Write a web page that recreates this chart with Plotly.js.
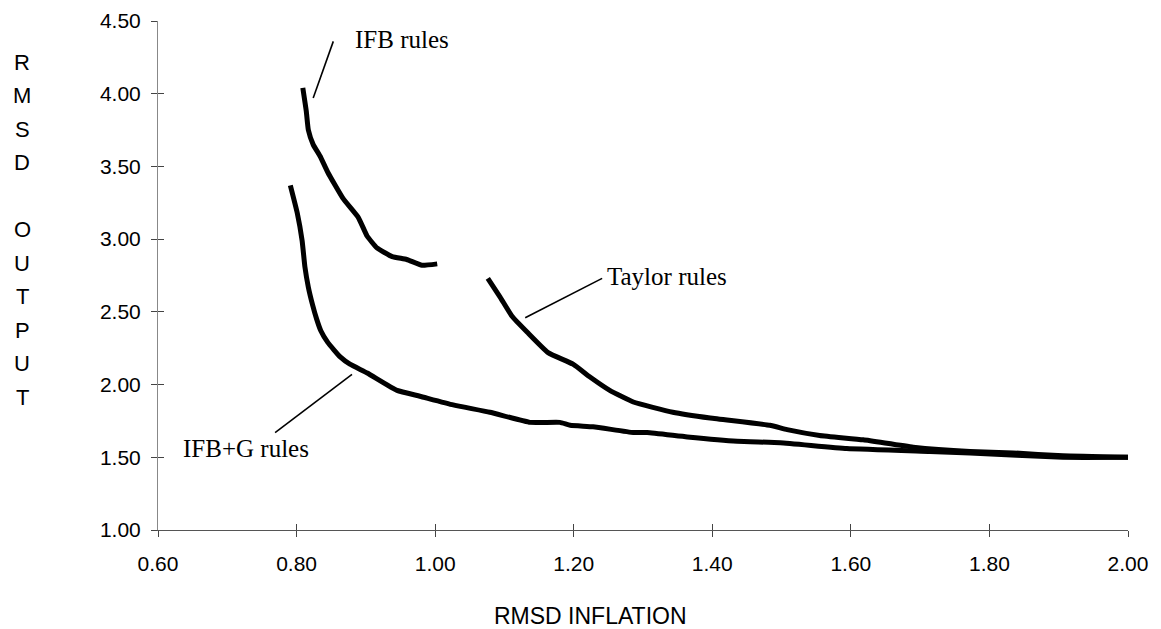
<!DOCTYPE html>
<html>
<head>
<meta charset="utf-8">
<script src="https://cdn.plot.ly/plotly-3.0.1.min.js"></script>
<style>
  body { margin: 0; background: #fff; }
  #chart { width: 1161px; height: 629px; }
</style>
</head>
<body>
<div id="chart"></div>
<script>
// RMSD output vs RMSD inflation, three rule families
const ifbX = [0.809, 0.814, 0.817, 0.824, 0.834, 0.845, 0.867, 0.889, 0.902, 0.916, 0.938, 0.959, 0.981, 1.003];
const ifbY = [4.04, 3.88, 3.75, 3.65, 3.57, 3.46, 3.28, 3.15, 3.02, 2.94, 2.88, 2.86, 2.82, 2.83];

const ifbgX = [0.791, 0.801, 0.808, 0.812, 0.817, 0.823, 0.829, 0.835, 0.845, 0.863, 0.877, 0.902, 0.945, 0.978,
               1.026, 1.079, 1.137, 1.180, 1.195, 1.228, 1.286, 1.306, 1.364, 1.436, 1.498, 1.594, 1.714,
               1.772, 1.906, 2.00];
const ifbgY = [3.37, 3.18, 2.99, 2.81, 2.67, 2.55, 2.45, 2.37, 2.29, 2.19, 2.14, 2.08, 1.96, 1.92,
               1.86, 1.81, 1.74, 1.74, 1.72, 1.71, 1.67, 1.67, 1.64, 1.61, 1.60, 1.56, 1.54,
               1.53, 1.50, 1.50];

const taylorX = [1.076, 1.094, 1.111, 1.133, 1.163, 1.199, 1.224, 1.252, 1.286, 1.343, 1.397, 1.483,
                 1.508, 1.555, 1.618, 1.690, 1.772, 1.834, 1.906, 2.00];
const taylorY = [2.73, 2.60, 2.47, 2.36, 2.22, 2.14, 2.05, 1.96, 1.88, 1.81, 1.77, 1.72,
                 1.69, 1.65, 1.62, 1.57, 1.54, 1.53, 1.51, 1.50];

// label text and the short pointer lines
const labelText = ['IFB rules', 'Taylor rules', 'IFB+G rules'];
const labelX = [0.881, 1.245, 0.633];
const labelY = [4.37, 2.74, 1.56];
const leaderX = [[0.853, 0.824], [1.241, 1.130], [0.769, 0.880]];
const leaderY = [[4.36, 3.97], [2.73, 2.46], [1.67, 2.07]];

const xTickVals = [0.6, 0.8, 1.0, 1.2, 1.4, 1.6, 1.8, 2.0];
const yTickVals = [1.0, 1.5, 2.0, 2.5, 3.0, 3.5, 4.0, 4.5];
const yTitleLetters = ['R', 'M', 'S', 'D', '', 'O', 'U', 'T', 'P', 'U', 'T'];
const xTitle = 'RMSD INFLATION';

const sansFont = 'Liberation Sans, Arial, sans-serif';
const serifFont = 'Liberation Serif, Times New Roman, serif';

let traces = [];
[[ifbX, ifbY], [ifbgX, ifbgY], [taylorX, taylorY]].forEach(c => {
    traces.push({
        x: c[0], y: c[1],
        type: 'scatter', mode: 'lines',
        line: { color: '#000', width: 5, shape: 'spline', smoothing: 0.4 },
        hoverinfo: 'skip'
    });
});
leaderX.forEach((lx, i) => {
    traces.push({
        x: lx, y: leaderY[i],
        type: 'scatter', mode: 'lines',
        line: { color: '#000', width: 1.6 },
        hoverinfo: 'skip'
    });
});

let annotations = labelText.map((t, i) => ({
    x: labelX[i], y: labelY[i], xref: 'x', yref: 'y',
    text: t, showarrow: false,
    xanchor: 'left', yanchor: 'middle',
    font: { family: serifFont, size: 25, color: '#000' }
}));

// stacked letters for the vertical axis title
yTitleLetters.forEach((ch, i) => {
    if (!ch) return;
    const py = 62 + 33.5 * i;
    annotations.push({
        x: (22 - 158) / 970, y: (530 - py) / 509,
        xref: 'paper', yref: 'paper',
        text: ch, showarrow: false,
        xanchor: 'center', yanchor: 'middle',
        font: { family: sansFont, size: 22, color: '#000' }
    });
});
annotations.push({
    x: (590 - 158) / 970, y: (530 - 616) / 509,
    xref: 'paper', yref: 'paper',
    text: xTitle, showarrow: false,
    xanchor: 'center', yanchor: 'middle',
    font: { family: sansFont, size: 23, color: '#000' }
});

const baseX = {
    range: [0.6, 2.0], tickvals: xTickVals,
    showgrid: false, zeroline: false,
    showline: true, linecolor: '#555', linewidth: 1,
    tickcolor: '#444', ticklen: 6, tickwidth: 1
};
const baseY = {
    range: [1.0, 4.5], tickvals: yTickVals,
    showgrid: false, zeroline: false,
    showline: true, linecolor: '#888', linewidth: 1,
    tickcolor: '#444', ticklen: 6, tickwidth: 1
};

const layout = {
    width: 1161, height: 629,
    margin: { l: 158, r: 33, t: 21, b: 99 },
    paper_bgcolor: '#fff', plot_bgcolor: '#fff',
    showlegend: false,
    font: { family: sansFont, size: 21, color: '#000' },
    xaxis: Object.assign({}, baseX, {
        ticks: 'outside', tickformat: '.2f',
        ticklabelstandoff: 9,
        tickfont: { family: sansFont, size: 21, color: '#000' }
    }),
    yaxis: Object.assign({}, baseY, {
        ticks: 'outside', tickformat: '.2f',
        ticklabelstandoff: 6,
        tickfont: { family: sansFont, size: 21, color: '#000' }
    }),
    // overlay axes give the inner half of the crossing ticks
    xaxis2: Object.assign({}, baseX, {
        overlaying: 'x', anchor: 'y', side: 'bottom',
        ticks: 'inside', showticklabels: false
    }),
    yaxis2: Object.assign({}, baseY, {
        overlaying: 'y', anchor: 'x', side: 'left',
        ticks: 'inside', showticklabels: false
    }),
    annotations: annotations
};

// empty trace so the overlay axes are drawn
traces.push({ x: [], y: [], xaxis: 'x2', yaxis: 'y2', type: 'scatter', mode: 'lines', hoverinfo: 'skip' });

Plotly.newPlot('chart', traces, layout, { displayModeBar: false, staticPlot: true });
</script>
</body>
</html>
